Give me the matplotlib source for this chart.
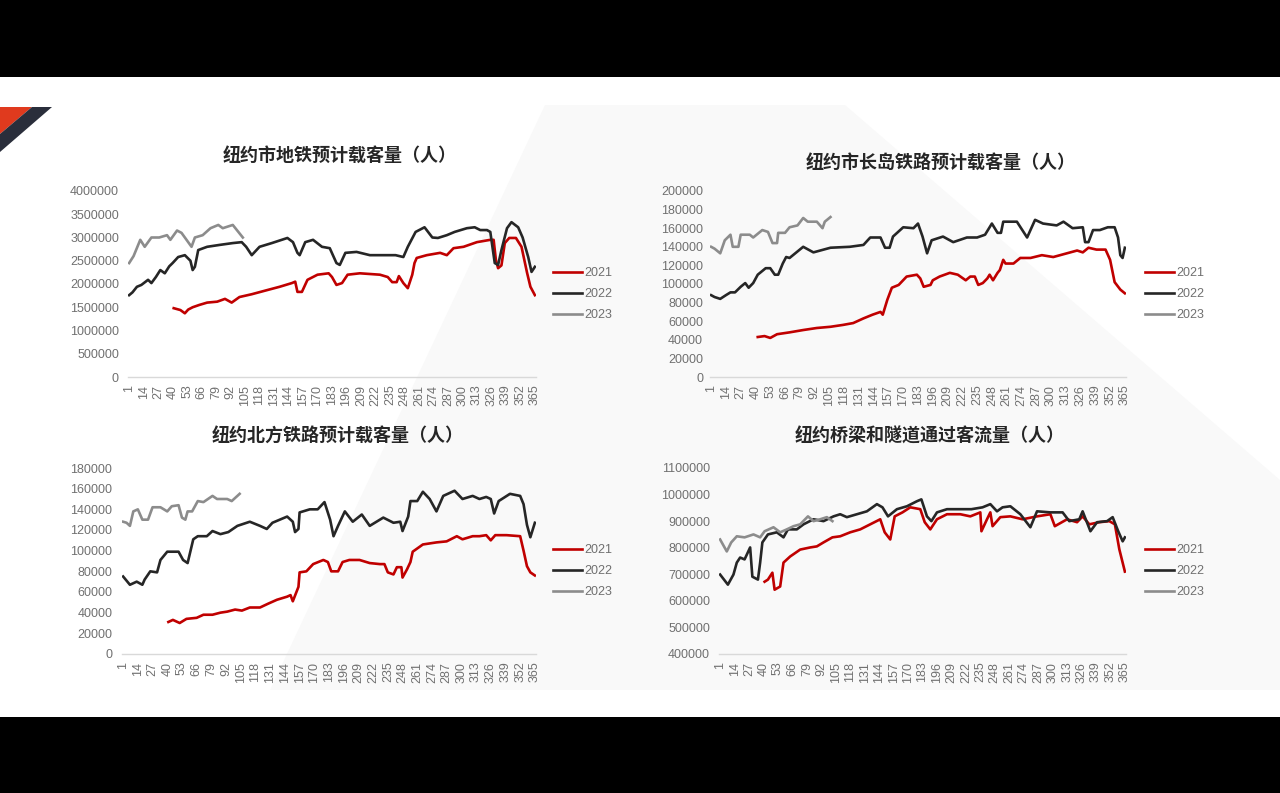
import numpy as np
import matplotlib
matplotlib.use("Agg")
import matplotlib.pyplot as plt
from matplotlib.patches import Polygon, Rectangle

plt.rcParams['font.family'] = ['Liberation Sans', 'Noto Sans CJK SC', 'DejaVu Sans']

W, H = 1280, 793

# ---- data (day of year -> value) ----
# 纽约市地铁 (millions)
subway_d21 = [41, 47, 51, 54, 58, 64, 71, 80, 87, 93, 100, 111, 125, 136, 147, 150, 152, 156, 161, 170,
              180, 183, 187, 192, 197, 208, 226, 233, 237, 241, 243, 247, 251, 255, 257, 259, 268, 280,
              286, 292, 301, 313, 325, 328, 330, 332, 335, 338, 342, 348, 353, 358, 361, 365]
subway_v21 = [1.48, 1.44, 1.37, 1.45, 1.5, 1.55, 1.6, 1.62, 1.68, 1.6, 1.72, 1.78, 1.87, 1.94, 2.02,
              2.05, 1.83, 1.83, 2.09, 2.2, 2.23, 2.15, 1.98, 2.02, 2.2, 2.23, 2.2, 2.15, 2.04, 2.04, 2.17,
              2.02, 1.91, 2.2, 2.45, 2.56, 2.62, 2.67, 2.62, 2.77, 2.8, 2.9, 2.95, 2.95, 2.52, 2.34, 2.4,
              2.88, 2.99, 2.99, 2.8, 2.24, 1.94, 1.76]
subway_d22 = [1, 4, 8, 12, 18, 21, 25, 29, 33, 37, 40, 45, 51, 56, 58, 60, 63, 71, 82, 94, 102, 106, 111,
              118, 129, 143, 148, 152, 154, 159, 166, 174, 181, 187, 190, 195, 205, 217, 229, 240, 247,
              251, 258, 266, 273, 278, 286, 293, 304, 311, 316, 322, 325, 329, 332, 335, 340, 344, 350,
              354, 359, 362, 365]
subway_v22 = [1.76, 1.82, 1.94, 1.98, 2.09, 2.02, 2.15, 2.3, 2.23, 2.38, 2.45, 2.58, 2.62, 2.5, 2.3, 2.37,
              2.73, 2.8, 2.84, 2.88, 2.9, 2.8, 2.62, 2.8, 2.88, 2.99, 2.9, 2.67, 2.62, 2.9, 2.95, 2.8,
              2.77, 2.45, 2.41, 2.67, 2.69, 2.62, 2.62, 2.62, 2.58, 2.8, 3.12, 3.22, 3.0, 2.99, 3.05,
              3.12, 3.2, 3.22, 3.16, 3.16, 3.12, 2.45, 2.41, 2.73, 3.2, 3.33, 3.22, 3.0, 2.58, 2.26, 2.37]
subway_d23 = [1, 5, 11, 15, 21, 28, 35, 38, 44, 48, 51, 57, 60, 67, 74, 81, 85, 94, 99, 103]
subway_v23 = [2.45, 2.6, 2.95, 2.8, 3.0, 3.0, 3.05, 2.95, 3.15, 3.1, 3.0, 2.8, 3.0, 3.05, 3.2, 3.27, 3.2,
              3.27, 3.12, 3.0]

# 纽约市长岛铁路 (thousands)
lirr_d21 = [42, 48, 53, 59, 70, 82, 94, 106, 117, 126, 135, 143, 150, 152, 156, 160, 166, 173, 182, 185,
            188, 194, 196, 202, 211, 218, 225, 229, 233, 236, 240, 244, 246, 249, 253, 255, 258, 260, 267,
            273, 282, 292, 302, 314, 323, 328, 333, 340, 348, 352, 356, 361, 365]
lirr_v21 = [43, 44, 42, 46, 48, 50.5, 52.7, 54, 56, 58, 63, 67, 70, 67, 83, 96, 99, 108, 110, 106, 97, 99,
            104, 108, 112, 110, 104, 108, 108, 99, 101, 106, 110, 104, 112, 115, 126, 122, 122, 128, 128,
            131, 129, 133, 136, 134, 139, 137, 137, 126, 102, 94, 90]
lirr_d22 = [1, 4, 9, 14, 18, 22, 27, 31, 34, 38, 42, 49, 53, 57, 60, 64, 67, 70, 76, 82, 91, 106, 123, 135,
            141, 150, 154, 158, 161, 170, 179, 183, 187, 191, 195, 205, 214, 226, 235, 242, 248, 253, 256,
            258, 270, 279, 286, 293, 305, 311, 319, 328, 330, 333, 337, 343, 350, 356, 359, 361, 363, 365]
lirr_v22 = [88, 86, 84, 88, 91, 91, 97, 101, 96, 101, 110, 117, 117, 110, 110, 122, 129, 128, 134, 140, 134,
            139, 140, 142, 150, 150, 139, 139, 151, 161, 160, 165, 151, 133, 147, 151, 145, 150, 150, 153,
            165, 155, 155, 167, 167, 150, 169, 165, 163, 167, 160, 161, 145, 145, 158, 158, 161, 161, 150,
            131, 128, 139]
lirr_d23 = [1, 4, 9, 13, 18, 20, 25, 27, 35, 38, 46, 51, 55, 59, 60, 66, 70, 77, 82, 86, 94, 99, 101, 106]
lirr_v23 = [140, 138, 133, 147, 153, 140, 140, 153, 153, 150, 158, 156, 144, 144, 155, 155, 161, 163, 171,
            167, 167, 160, 167, 172]

# 纽约北方铁路 (thousands)
mn_d21 = [41, 45, 51, 57, 66, 72, 80, 87, 93, 100, 106, 113, 122, 129, 137, 146, 149, 151, 156, 157, 163,
          169, 178, 182, 185, 191, 195, 201, 210, 219, 228, 232, 235, 240, 243, 247, 248, 252, 255, 257,
          266, 278, 287, 296, 301, 310, 316, 322, 326, 330, 340, 352, 355, 358, 361, 365]
mn_v21 = [31, 33, 30, 34, 35, 38, 38, 40, 41, 43, 42, 45, 45, 48.6, 52.5, 55.5, 57, 51, 65, 79, 80, 87, 91,
          89, 80, 80, 89, 91, 91, 88, 87, 87, 79, 77, 84, 84, 74, 82, 89, 99, 106, 108, 109, 114, 111, 114,
          114, 115, 110, 115, 115, 114, 100, 85, 79, 76]
mn_d22 = [1, 7, 13, 18, 20, 25, 31, 34, 40, 50, 54, 58, 63, 67, 75, 80, 87, 94, 102, 113, 122, 128, 133,
          146, 151, 153, 156, 157, 166, 173, 179, 184, 187, 191, 197, 204, 212, 219, 231, 240, 246, 248,
          253, 255, 261, 266, 272, 278, 284, 294, 301, 310, 316, 322, 326, 329, 333, 343, 352, 355, 358,
          361, 365]
mn_v22 = [75, 67, 70, 67, 72, 80, 79, 91, 99, 99, 91, 88, 111, 114, 114, 119, 116, 118, 124, 128, 124, 121,
          127, 133, 128, 118, 121, 137, 140, 140, 147, 130, 114, 124, 138, 128, 135, 124, 132, 127, 128,
          119, 133, 148, 148, 157, 150, 138, 153, 158, 150, 153, 150, 152, 150, 136, 148, 155, 153, 145,
          125, 113, 127]
mn_d23 = [1, 4, 7, 10, 14, 18, 23, 27, 34, 40, 44, 50, 53, 56, 58, 62, 67, 72, 80, 84, 93, 97, 104]
mn_v23 = [128, 127, 124, 138, 140, 130, 130, 142, 142, 138, 143, 144, 132, 130, 138, 138, 148, 147, 153,
          150, 150, 148, 155]

# 纽约桥梁和隧道 (thousands)
bt_d21 = [41, 44, 48, 50, 55, 58, 64, 73, 82, 88, 94, 102, 109, 118, 127, 136, 145, 149, 154, 158, 165,
          172, 181, 185, 190, 196, 205, 217, 226, 235, 236, 241, 244, 246, 253, 262, 273, 286, 298, 302,
          313, 322, 327, 333, 342, 351, 356, 360, 365]
bt_v21 = [672, 680, 706, 642, 654, 744, 767, 793, 801, 805, 820, 839, 843, 858, 869, 888, 907, 858, 831,
          918, 933, 952, 945, 896, 869, 907, 926, 926, 918, 933, 862, 907, 933, 881, 915, 918, 907, 918,
          926, 881, 907, 896, 918, 888, 896, 900, 888, 794, 710]
bt_d22 = [1, 8, 13, 16, 19, 23, 28, 30, 35, 37, 39, 44, 52, 58, 62, 70, 76, 85, 94, 103, 109, 115, 124,
          133, 142, 147, 152, 160, 169, 178, 182, 187, 191, 196, 205, 217, 227, 237, 244, 250, 255, 262,
          271, 280, 286, 298, 309, 315, 324, 327, 334, 340, 349, 354, 359, 363, 365]
bt_v22 = [699, 661, 699, 744, 763, 756, 801, 691, 680, 744, 820, 850, 858, 839, 869, 869, 888, 907, 900,
          918, 926, 915, 926, 937, 964, 952, 918, 945, 956, 975, 982, 918, 900, 933, 945, 945, 945, 952,
          964, 937, 952, 956, 926, 877, 937, 933, 933, 900, 907, 937, 862, 896, 900, 915, 862, 824, 839]
bt_d23 = [1, 5, 7, 11, 16, 23, 31, 37, 41, 49, 55, 61, 67, 73, 80, 85, 91, 97, 102]
bt_v23 = [831, 801, 786, 820, 843, 839, 850, 839, 862, 877, 858, 869, 881, 888, 918, 900, 907, 915, 900]

years = ['2021', '2022', '2023']
colors = ['#c00000', '#262626', '#8c8c8c']
xticks = list(range(1, 366, 13))

charts = [
    dict(title='纽约市地铁预计载客量（人）', scale=1e6,
         series=[(subway_d21, subway_v21), (subway_d22, subway_v22), (subway_d23, subway_v23)],
         yticks=range(0, 4000001, 500000), box=(128, 191, 536, 377), pad=6.5,
         tpos=(340, 155), lpos=(553, 294)),
    dict(title='纽约市长岛铁路预计载客量（人）', scale=1e3,
         series=[(lirr_d21, lirr_v21), (lirr_d22, lirr_v22), (lirr_d23, lirr_v23)],
         yticks=range(0, 200001, 20000), box=(710, 191, 1126, 377), pad=5,
         tpos=(941, 162), lpos=(1145, 294)),
    dict(title='纽约北方铁路预计载客量（人）', scale=1e3,
         series=[(mn_d21, mn_v21), (mn_d22, mn_v22), (mn_d23, mn_v23)],
         yticks=range(0, 180001, 20000), box=(122, 468, 536, 654), pad=7,
         tpos=(338, 435), lpos=(553, 571)),
    dict(title='纽约桥梁和隧道通过客流量（人）', scale=1e3,
         series=[(bt_d21, bt_v21), (bt_d22, bt_v22), (bt_d23, bt_v23)],
         yticks=range(400000, 1100001, 100000), box=(719, 468, 1126, 654), pad=6.5,
         tpos=(930, 436), lpos=(1145, 571)),
]

fig = plt.figure(figsize=(W / 100, H / 100), dpi=100)
fig.patch.set_facecolor('black')

# white slide area, faint diagonal shape and corner logo
fig.patches.append(Rectangle((0, 1 - 717 / H), 1, (717 - 77) / H, transform=fig.transFigure,
                             facecolor='white', edgecolor='none', zorder=-3))
shape = [(545, 105), (845, 105), (1280, 480), (1280, 690), (270, 690)]
fig.patches.append(Polygon([(x / W, 1 - y / H) for x, y in shape], closed=True, transform=fig.transFigure,
                           facecolor='#f9f9f9', edgecolor='none', zorder=-2))
red_tri = [(0, 107), (32, 107), (0, 134)]
navy = [(32, 107), (52, 107), (0, 152), (0, 134)]
fig.patches.append(Polygon([(x / W, 1 - y / H) for x, y in red_tri], closed=True, transform=fig.transFigure,
                           facecolor='#e03a1e', edgecolor='none', zorder=-1))
fig.patches.append(Polygon([(x / W, 1 - y / H) for x, y in navy], closed=True, transform=fig.transFigure,
                           facecolor='#2a2e3b', edgecolor='none', zorder=-1))

for c in charts:
    l, t, r, b = c['box']
    ax = fig.add_axes([l / W, 1 - b / H, (r - l) / W, (b - t) / H])
    ax.set_facecolor('none')
    for (d, v), col, yr in zip(c['series'], colors, years):
        ax.plot(d, np.array(v) * c['scale'], color=col, lw=1.9, label=yr, solid_joinstyle='round')
    ax.set_xlim(0, 366)
    ax.set_ylim(min(c['yticks']), max(c['yticks']))
    ax.set_xticks(xticks)
    ax.set_xticklabels([str(x) for x in xticks], rotation=90)
    ax.set_yticks(list(c['yticks']))
    ax.set_yticklabels([str(y) for y in c['yticks']])
    for s in ['top', 'left', 'right']:
        ax.spines[s].set_visible(False)
    ax.spines['bottom'].set_color('#d9d9d9')
    ax.spines['bottom'].set_linewidth(1)
    ax.spines['bottom'].set_zorder(0)
    ax.tick_params(axis='both', length=0, labelsize=9, colors='#707070')
    ax.tick_params(axis='y', pad=c['pad'])
    ax.tick_params(axis='x', pad=5.5)
    fig.text(c['tpos'][0] / W, 1 - c['tpos'][1] / H, c['title'], ha='center', va='center',
             fontsize=13, fontweight='bold', color='#262626',
             family=['Noto Sans CJK SC', 'DejaVu Sans'])
    ax.legend(loc='center left', bbox_to_anchor=(c['lpos'][0] / W, 1 - c['lpos'][1] / H),
              bbox_transform=fig.transFigure, frameon=False, fontsize=9, labelcolor='#707070',
              handlelength=2.3, handletextpad=0.2, labelspacing=0.72, borderpad=0, borderaxespad=0)

fig.savefig('out.png', dpi=100, facecolor=fig.get_facecolor())
